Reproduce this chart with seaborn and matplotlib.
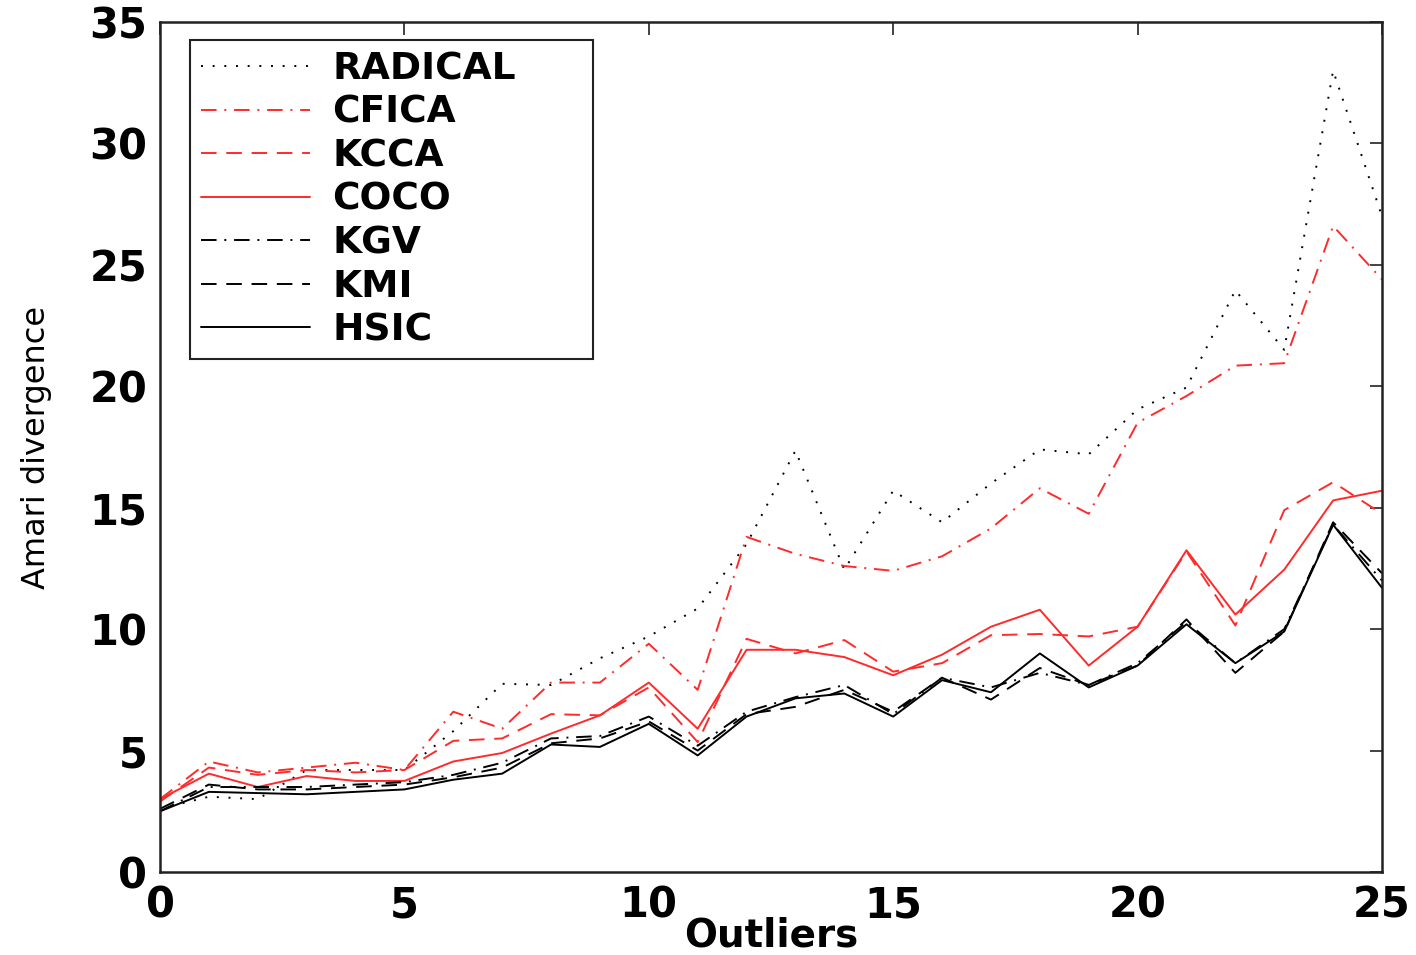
import numpy as np
import pandas as pd
import matplotlib
matplotlib.use("Agg")
import matplotlib.pyplot as plt
import seaborn as sns

outliers = list(range(26))
radical = [2.6, 3.1, 3.0, 4.2, 4.2, 4.2, 5.8, 7.75, 7.7, 8.8, 9.7, 10.85, 13.5, 17.35, 12.45,
           15.7, 14.4, 16.0, 17.4, 17.2, 19.05, 19.95, 23.95, 21.5, 33.0, 27.0]
cfica = [3.0, 4.55, 4.1, 4.3, 4.5, 4.2, 6.6, 5.9, 7.8, 7.8, 9.4, 7.5, 13.8, 13.1, 12.6,
         12.4, 13.0, 14.15, 15.8, 14.75, 18.5, 19.6, 20.85, 20.95, 26.6, 24.4]
kcca = [2.9, 4.3, 4.0, 4.2, 4.1, 4.2, 5.4, 5.5, 6.5, 6.45, 7.6, 5.35, 9.6, 9.0, 9.55,
        8.25, 8.6, 9.75, 9.8, 9.7, 10.1, 13.2, 10.15, 14.9, 16.05, 14.75]
coco = [3.0, 4.05, 3.5, 3.95, 3.75, 3.75, 4.55, 4.9, 5.7, 6.45, 7.8, 5.9, 9.15, 9.15, 8.85,
        8.1, 8.95, 10.1, 10.8, 8.5, 10.1, 13.25, 10.6, 12.45, 15.3, 15.7]
kgv = [2.5, 3.5, 3.5, 3.5, 3.6, 3.7, 4.0, 4.5, 5.5, 5.6, 6.4, 5.2, 6.6, 7.2, 7.7,
       6.5, 8.0, 7.6, 8.2, 7.7, 8.6, 10.3, 8.6, 10.0, 14.3, 12.0]
kmi = [2.6, 3.6, 3.4, 3.4, 3.5, 3.6, 3.9, 4.3, 5.3, 5.5, 6.2, 5.0, 6.5, 6.8, 7.5,
       6.6, 8.0, 7.1, 8.4, 7.7, 8.5, 10.4, 8.2, 9.9, 14.4, 12.3]
hsic = [2.5, 3.3, 3.25, 3.2, 3.3, 3.4, 3.8, 4.05, 5.25, 5.15, 6.1, 4.8, 6.4, 7.15, 7.35,
        6.4, 7.9, 7.4, 9.0, 7.6, 8.5, 10.2, 8.6, 9.9, 14.3, 11.7]

methods = ["RADICAL", "CFICA", "KCCA", "COCO", "KGV", "KMI", "HSIC"]
series = [radical, cfica, kcca, coco, kgv, kmi, hsic]
xticks = [0, 5, 10, 15, 20, 25]
yticks = [0, 5, 10, 15, 20, 25, 30, 35]

rows = []
for m, vals in zip(methods, series):
    for x, v in zip(outliers, vals):
        rows.append({"Outliers": x, "Amari": v, "method": m})
df = pd.DataFrame(rows)

sns.set_style("white")
plt.rcParams["font.family"] = ["DejaVu Sans"]
plt.rcParams.update({
    "xtick.direction": "in", "ytick.direction": "in",
    "xtick.top": True, "ytick.right": True,
    "xtick.major.size": 9, "ytick.major.size": 9,
    "xtick.major.width": 1.2, "ytick.major.width": 1.2,
    "text.color": "black", "axes.labelcolor": "black",
    "xtick.color": "#222222", "ytick.color": "#222222",
    "xtick.labelcolor": "black", "ytick.labelcolor": "black",
})

RED = "#ff2a2a"
palette = {"RADICAL": "black", "CFICA": RED, "KCCA": RED, "COCO": RED,
           "KGV": "black", "KMI": "black", "HSIC": "black"}
dashes = {"RADICAL": (1, 5), "CFICA": (8, 4, 1, 4), "KCCA": (8, 5), "COCO": "",
          "KGV": (8, 4, 1, 4), "KMI": (8, 5), "HSIC": ""}

fig = plt.figure(figsize=(14.16, 9.55), dpi=100)
ax = fig.add_axes([160 / 1416, 1 - 872 / 955, (1382 - 160) / 1416, (872 - 22) / 955])

sns.lineplot(data=df, x="Outliers", y="Amari", hue="method", style="method",
             hue_order=methods, style_order=methods, palette=palette, dashes=dashes,
             linewidth=1.4, ax=ax, legend=True)

ax.set_xlim(0, 25)
ax.set_ylim(0, 35)
ax.set_xticks(xticks)
ax.set_yticks(yticks)
ax.tick_params(axis="both", labelsize=30, pad=9)
for lab in ax.get_xticklabels() + ax.get_yticklabels():
    lab.set_fontweight("bold")
for s in ax.spines.values():
    s.set_linewidth(1.8)
    s.set_color("#222222")
ax.set_xlabel("Outliers", fontsize=28, fontweight="bold", labelpad=-7)
ax.set_ylabel("Amari divergence", fontsize=23, labelpad=27)

handles, labels = ax.get_legend_handles_labels()
x0 = (190 - 160) / 1222
y1 = (872 - 40) / 850
w = (593 - 190) / 1222
h = (350 - 40) / 850
leg = ax.legend(handles, labels, loc="upper left", bbox_to_anchor=(x0, y1 - h, w, h),
                mode="expand", borderaxespad=0,
                prop={"size": 27, "weight": "bold"}, handlelength=2.9, handletextpad=0.6,
                labelspacing=0.2, fancybox=False, edgecolor="#222222", framealpha=1,
                borderpad=0.3)
leg.get_frame().set_linewidth(1.5)

fig.savefig("out.png", dpi=100)
